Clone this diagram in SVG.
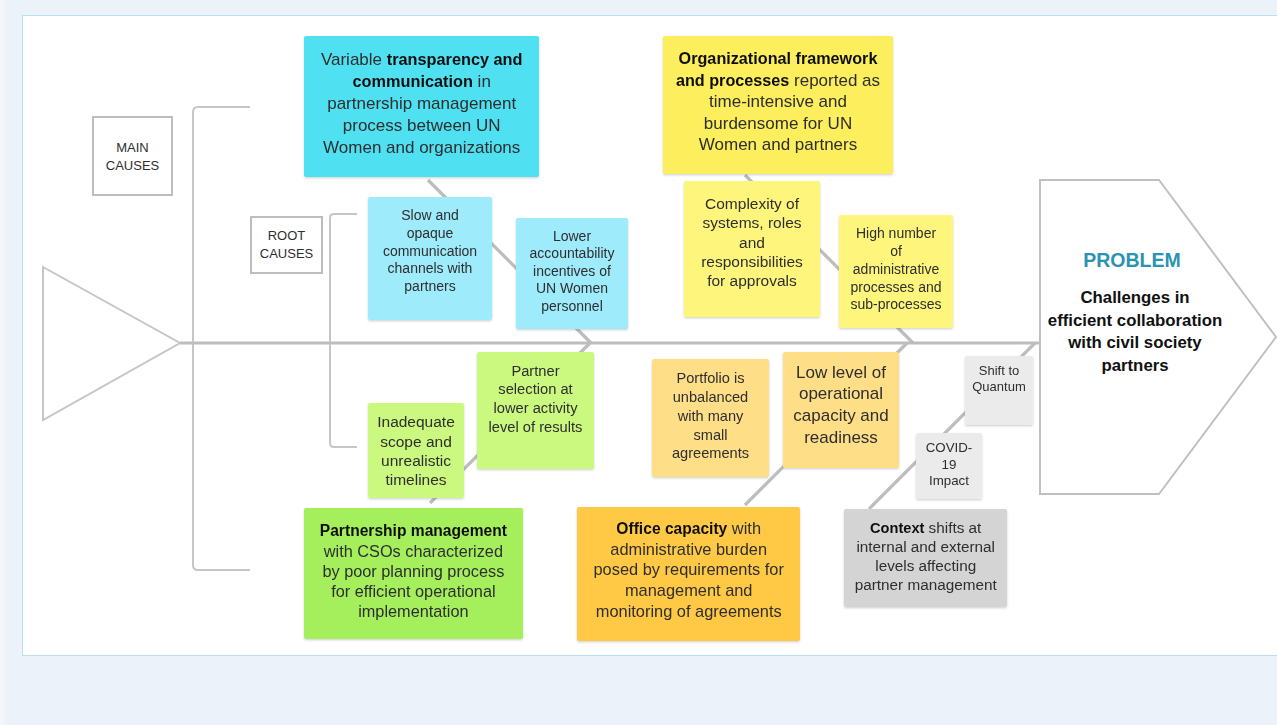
<svg xmlns="http://www.w3.org/2000/svg" width="1277" height="725" viewBox="0 0 1277 725">
  <defs>
    <filter id="shadow" x="-10%" y="-10%" width="120%" height="125%">
      <feDropShadow dx="0" dy="1.2" stdDeviation="1.2" flood-color="#000" flood-opacity="0.18"/>
    </filter>
  </defs>
  <style>
    text { font-family: "Liberation Sans", Arial, sans-serif; fill: #2e2e2e; text-anchor: middle; }
    .b { font-weight: bold; fill: #111; }
    .frame { fill: none; stroke: #c6c6c6; stroke-width: 2; }
    .bone { fill: none; stroke: #bdbdbd; stroke-width: 3.2; stroke-linecap: butt; }
    .label { fill: #fff; stroke: #bdbdbd; stroke-width: 2; }
    .note { filter: url(#shadow); }
  </style>

  <!-- page and canvas -->
  <rect x="0" y="0" width="1277" height="725" fill="#ebf2f9"/>
  <rect x="0" y="0" width="5" height="725" fill="#f3f7fb"/>
  <rect x="22.5" y="15.5" width="1262" height="640" fill="#ffffff" stroke="#79c6e6" stroke-width="1" stroke-dasharray="1 1"/>

  <!-- fish head / tail outlines and brackets -->
  <polygon class="frame" points="43,267 180,343 43,420" fill="#fff"/>
  <path class="frame" d="M250,107 H198 Q193,107 193,112 V565 Q193,570 198,570 H250"/>
  <path class="frame" d="M357,214 H334 Q330,214 330,218 V443 Q330,447 334,447 H357"/>

  <!-- connectors: spine and bones -->
  <g id="connectors">
    <line class="bone" x1="180" y1="343" x2="1040" y2="343"/>
    <line class="bone" x1="428" y1="180" x2="591" y2="343"/>
    <line class="bone" x1="430" y1="503" x2="590" y2="343"/>
    <line class="bone" x1="745" y1="175" x2="913" y2="343"/>
    <line class="bone" x1="745" y1="505" x2="907" y2="343"/>
    <line class="bone" x1="869" y1="509" x2="1035" y2="343"/>
  </g>

  <!-- section labels -->
  <g id="main-causes">
    <rect class="label" x="93" y="117" width="79" height="78"/>
    <text font-size="13" x="132.5" y="151.5">MAIN</text>
    <text font-size="13" x="132.5" y="169.5">CAUSES</text>
  </g>
  <g id="root-causes">
    <rect class="label" x="251" y="217" width="71" height="56"/>
    <text font-size="13" x="286.5" y="239.5">ROOT</text>
    <text font-size="13" x="286.5" y="257.8">CAUSES</text>
  </g>

  <!-- problem head -->
  <g id="problem">
    <polygon points="1040,180 1159,180 1276,337 1159,494 1040,494" fill="#fff" stroke="#c0c0c0" stroke-width="2"/>
    <text class="b" font-size="19.5" x="1132" y="266.8" style="fill:#2b93b3">PROBLEM</text>
    <text class="b" font-size="16.8" x="1135" y="303">Challenges in</text>
    <text class="b" font-size="16.8" x="1135" y="325.6">efficient collaboration</text>
    <text class="b" font-size="16.8" x="1135" y="348.2">with civil society</text>
    <text class="b" font-size="16.8" x="1135" y="370.8">partners</text>
  </g>

  <!-- main cause: transparency and communication -->
  <g id="cause-communication" class="note">
    <rect x="304" y="36" width="235" height="141" rx="2" fill="#4fe0f1"/>
    <text font-size="17" x="421.7" y="65.3">Variable <tspan class="b" font-size="16.3">transparency and</tspan></text>
    <text font-size="17" x="421.7" y="87.3"><tspan class="b" font-size="16.3">communication</tspan> in</text>
    <text font-size="17" x="421.7" y="109.3">partnership management</text>
    <text font-size="17" x="421.7" y="131.3">process between UN</text>
    <text font-size="17" x="421.7" y="153.3">Women and organizations</text>
  </g>

  <!-- main cause: organizational framework -->
  <g id="cause-framework" class="note">
    <rect x="663" y="36" width="230" height="138" rx="2" fill="#fcee5b"/>
    <text font-size="17" x="778" y="64.3"><tspan class="b" font-size="16.2">Organizational framework</tspan></text>
    <text font-size="17" x="778" y="85.7"><tspan class="b" font-size="16.2">and processes</tspan> reported as</text>
    <text font-size="17" x="778" y="107.1">time-intensive and</text>
    <text font-size="17" x="778" y="128.5">burdensome for UN</text>
    <text font-size="17" x="778" y="149.9">Women and partners</text>
  </g>

  <!-- root causes above the spine -->
  <g id="root-slow-channels" class="note">
    <rect x="368" y="197" width="124" height="123" rx="2" fill="#9eebfb"/>
    <text font-size="14" x="430" y="220">Slow and</text>
    <text font-size="14" x="430" y="237.8">opaque</text>
    <text font-size="14" x="430" y="255.5">communication</text>
    <text font-size="14" x="430" y="273.3">channels with</text>
    <text font-size="14" x="430" y="291">partners</text>
  </g>
  <g id="root-accountability" class="note">
    <rect x="516" y="218" width="112" height="111" rx="2" fill="#9eebfb"/>
    <text font-size="14" x="572" y="240.6">Lower</text>
    <text font-size="14" x="572" y="258.1">accountability</text>
    <text font-size="14" x="572" y="275.6">incentives of</text>
    <text font-size="14" x="572" y="293.1">UN Women</text>
    <text font-size="14" x="572" y="310.6">personnel</text>
  </g>
  <g id="root-complexity" class="note">
    <rect x="684" y="181" width="136" height="136" rx="2" fill="#fef67c"/>
    <text font-size="15.5" x="752" y="208.8">Complexity of</text>
    <text font-size="15.5" x="752" y="228.2">systems, roles</text>
    <text font-size="15.5" x="752" y="247.6">and</text>
    <text font-size="15.5" x="752" y="267">responsibilities</text>
    <text font-size="15.5" x="752" y="286.4">for approvals</text>
  </g>
  <g id="root-admin-processes" class="note">
    <rect x="839" y="215" width="114" height="113" rx="2" fill="#fef67c"/>
    <text font-size="14" x="896" y="238.2">High number</text>
    <text font-size="14" x="896" y="256">of</text>
    <text font-size="14" x="896" y="273.7">administrative</text>
    <text font-size="14" x="896" y="291.5">processes and</text>
    <text font-size="14" x="896" y="309.2">sub-processes</text>
  </g>

  <!-- root causes below the spine -->
  <g id="root-scope" class="note">
    <rect x="368" y="403" width="96" height="95" rx="2" fill="#cbf87e"/>
    <text font-size="15.5" x="416" y="427.2">Inadequate</text>
    <text font-size="15.5" x="416" y="446.6">scope and</text>
    <text font-size="15.5" x="416" y="466">unrealistic</text>
    <text font-size="15.5" x="416" y="485.4">timelines</text>
  </g>
  <g id="root-partner-selection" class="note">
    <rect x="477" y="352" width="117" height="117" rx="2" fill="#cbf87e"/>
    <text font-size="14.7" x="535.5" y="375.8">Partner</text>
    <text font-size="14.7" x="535.5" y="394.4">selection at</text>
    <text font-size="14.7" x="535.5" y="413">lower activity</text>
    <text font-size="14.7" x="535.5" y="431.6">level of results</text>
  </g>
  <g id="root-portfolio" class="note">
    <rect x="652" y="359" width="117" height="118" rx="2" fill="#ffde88"/>
    <text font-size="14.6" x="710.5" y="383.4">Portfolio is</text>
    <text font-size="14.6" x="710.5" y="402.1">unbalanced</text>
    <text font-size="14.6" x="710.5" y="420.9">with many</text>
    <text font-size="14.6" x="710.5" y="439.6">small</text>
    <text font-size="14.6" x="710.5" y="458.4">agreements</text>
  </g>
  <g id="root-operational-capacity" class="note">
    <rect x="783" y="352" width="116" height="116" rx="2" fill="#ffde88"/>
    <text font-size="17" x="841" y="377.6">Low level of</text>
    <text font-size="17" x="841" y="399.3">operational</text>
    <text font-size="17" x="841" y="421">capacity and</text>
    <text font-size="17" x="841" y="442.7">readiness</text>
  </g>
  <g id="root-quantum" class="note">
    <rect x="965" y="356" width="68" height="69" rx="2" fill="#ebebeb"/>
    <text font-size="13" x="999" y="374.5">Shift to</text>
    <text font-size="13" x="999" y="391.2">Quantum</text>
  </g>
  <g id="root-covid" class="note">
    <rect x="916" y="433" width="66" height="66" rx="2" fill="#ebebeb"/>
    <text font-size="13.3" x="949" y="451.9">COVID-</text>
    <text font-size="13.3" x="949" y="468.6">19</text>
    <text font-size="13.3" x="949" y="485.3">Impact</text>
  </g>

  <!-- main causes below the spine -->
  <g id="cause-partnership" class="note">
    <rect x="304" y="508" width="219" height="131" rx="2" fill="#a5ef5c"/>
    <text font-size="16.3" x="413.4" y="536.3"><tspan class="b" font-size="15.6">Partnership management</tspan></text>
    <text font-size="16.3" x="413.4" y="556.5">with CSOs characterized</text>
    <text font-size="16.3" x="413.4" y="576.7">by poor planning process</text>
    <text font-size="16.3" x="413.4" y="596.9">for efficient operational</text>
    <text font-size="16.3" x="413.4" y="617.1">implementation</text>
  </g>
  <g id="cause-office" class="note">
    <rect x="577" y="507" width="223" height="134" rx="2" fill="#ffc944"/>
    <text font-size="16.4" x="688.7" y="534"><tspan class="b" font-size="15.6">Office capacity</tspan> with</text>
    <text font-size="16.4" x="688.7" y="554.7">administrative burden</text>
    <text font-size="16.4" x="688.7" y="575.4">posed by requirements for</text>
    <text font-size="16.4" x="688.7" y="596.1">management and</text>
    <text font-size="16.4" x="688.7" y="616.8">monitoring of agreements</text>
  </g>
  <g id="cause-context" class="note">
    <rect x="844" y="509" width="163" height="98" rx="2" fill="#d4d4d4"/>
    <text font-size="15.3" x="925.7" y="532.6"><tspan class="b" font-size="14.6">Context</tspan> shifts at</text>
    <text font-size="15.3" x="925.7" y="551.8">internal and external</text>
    <text font-size="15.3" x="925.7" y="571">levels affecting</text>
    <text font-size="15.3" x="925.7" y="590.2">partner management</text>
  </g>
</svg>
